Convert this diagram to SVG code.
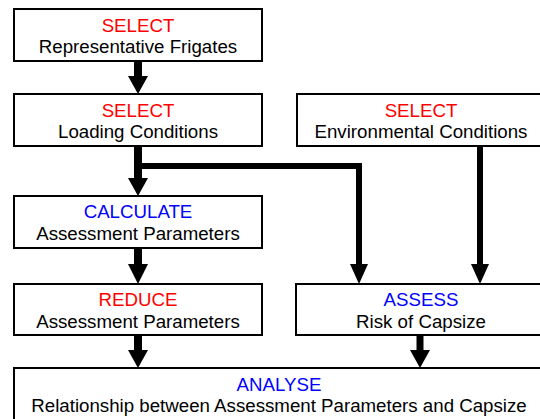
<svg xmlns="http://www.w3.org/2000/svg" width="540" height="419" viewBox="0 0 540 419">
<style>
.box{fill:#fff;stroke:#000;stroke-width:2}
text{font-family:"Liberation Sans",Arial,sans-serif;font-size:18.7px;text-anchor:middle}
.red{fill:#ff0000}
.blue{fill:#0000ff}
.blk{fill:#000}
.sh{stroke:#000;fill:none}
.hd{fill:#000}
</style>
<rect width="540" height="419" fill="#fff"/>
<g id="connectors">
<line class="sh" x1="138" y1="62" x2="138" y2="78" stroke-width="8"/>
<polygon class="hd" points="128,76 148,76 138,94"/>
<line class="sh" x1="138" y1="147" x2="138" y2="180" stroke-width="8"/>
<polygon class="hd" points="128,178 148,178 138,196"/>
<polyline class="sh" points="138,166 359,166 359,266" stroke-width="6"/>
<polygon class="hd" points="350,264 368,264 359,284"/>
<line class="sh" x1="480" y1="147" x2="480" y2="266" stroke-width="6"/>
<polygon class="hd" points="471,264 489,264 480,284"/>
<line class="sh" x1="138" y1="249" x2="138" y2="266" stroke-width="8"/>
<polygon class="hd" points="128,264 148,264 138,284"/>
<line class="sh" x1="138" y1="336" x2="138" y2="352" stroke-width="8"/>
<polygon class="hd" points="128,350 148,350 138,368"/>
<line class="sh" x1="420" y1="336" x2="420" y2="352" stroke-width="7"/>
<polygon class="hd" points="410,350 430,350 420,368"/>
</g>
<g id="n1">
<rect class="box" x="14" y="9" width="248" height="52"/>
<text class="red" x="138" y="32">SELECT</text>
<text class="blk" x="138" y="53">Representative Frigates</text>
</g>
<g id="n2">
<rect class="box" x="14" y="94" width="248" height="52"/>
<text class="red" x="138" y="117">SELECT</text>
<text class="blk" x="138" y="138">Loading Conditions</text>
</g>
<g id="n3">
<rect class="box" x="297" y="94" width="248" height="52"/>
<text class="red" x="421" y="117">SELECT</text>
<text class="blk" x="421" y="138">Environmental Conditions</text>
</g>
<g id="n4">
<rect class="box" x="14" y="196" width="248" height="52"/>
<text class="blue" x="138" y="218">CALCULATE</text>
<text class="blk" x="138" y="240">Assessment Parameters</text>
</g>
<g id="n5">
<rect class="box" x="14" y="284" width="248" height="51"/>
<text class="red" x="138" y="306">REDUCE</text>
<text class="blk" x="138" y="328">Assessment Parameters</text>
</g>
<g id="n6">
<rect class="box" x="296" y="284" width="249" height="51"/>
<text class="blue" x="421" y="306">ASSESS</text>
<text class="blk" x="421" y="328">Risk of Capsize</text>
</g>
<g id="n7">
<rect class="box" x="14" y="368" width="531" height="54"/>
<text class="blue" x="279" y="391">ANALYSE</text>
<text class="blk" x="279" y="412">Relationship between Assessment Parameters and Capsize</text>
</g>
</svg>
